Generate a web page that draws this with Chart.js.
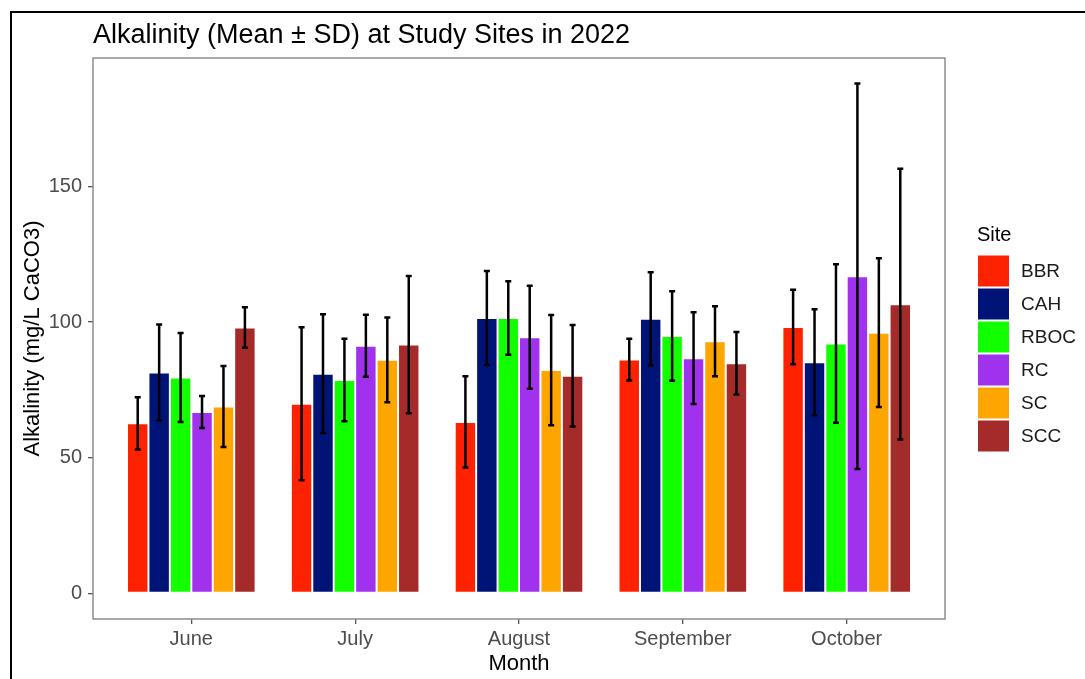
<!DOCTYPE html>
<html>
<head>
<meta charset="utf-8">
<script src="https://cdn.jsdelivr.net/npm/chart.js@4/dist/chart.umd.min.js"></script>
<style>
  html, body { margin: 0; padding: 0; background: #ffffff; }
  #wrap { width: 1085px; height: 679px; position: relative; }
</style>
</head>
<body>
<div id="wrap"><canvas id="c" width="1085" height="679"></canvas></div>
<script>
const categories = ['June', 'July', 'August', 'September', 'October'];
const sites = ['BBR', 'CAH', 'RBOC', 'RC', 'SC', 'SCC'];
const siteColors = ['#FF2200', '#001478', '#12FF00', '#A032EE', '#FFA500', '#A52A2A'];

const BBR_mean  = [62.7, 69.9, 63.2, 86.2, 98.2];
const BBR_sd    = [9.6, 28.2, 16.8, 7.7, 13.7];
const CAH_mean  = [81.4, 81.0, 101.5, 101.2, 85.2];
const CAH_sd    = [17.7, 21.9, 17.3, 17.2, 19.5];
const RBOC_mean = [79.6, 78.7, 101.5, 94.9, 92.1];
const RBOC_sd   = [16.4, 15.2, 13.5, 16.5, 29.2];
const RC_mean   = [66.9, 91.3, 94.4, 86.7, 116.9];
const RC_sd     = [5.9, 11.4, 19.0, 16.9, 71.0];
const SC_mean   = [68.9, 86.1, 82.3, 92.9, 96.1];
const SC_sd     = [14.9, 15.6, 20.3, 12.9, 27.4];
const SCC_mean  = [98.0, 91.7, 80.2, 84.8, 106.6];
const SCC_sd    = [7.5, 25.3, 18.7, 11.5, 49.9];

const yTickValues = [0, 50, 100, 150];

const titleText = 'Alkalinity (Mean \u00B1 SD) at Study Sites in 2022';
const xTitle = 'Month';
const yTitle = 'Alkalinity (mg/L CaCO3)';
const legendTitle = 'Site';

const means = [BBR_mean, CAH_mean, RBOC_mean, RC_mean, SC_mean, SCC_mean];
const sds = [BBR_sd, CAH_sd, RBOC_sd, RC_sd, SC_sd, SCC_sd];

// ggplot-like 5% expansion of the data range (0 .. max upper error bar)
let dataMax = 0;
means.forEach((m, i) => m.forEach((v, j) => { dataMax = Math.max(dataMax, v + sds[i][j]); }));
const yPad = dataMax * 0.05;

const FONT = "'Liberation Sans', Arial, Helvetica, sans-serif";

const datasets = sites.map((s, i) => ({
  label: s,
  data: means[i].map((v, j) => ({ x: j, y: v })),
  sd: sds[i],
  backgroundColor: siteColors[i],
  borderColor: '#ffffff',
  borderWidth: 1,
  borderSkipped: false,
  categoryPercentage: 0.785,
  barPercentage: 1.0
}));

const decorPlugin = {
  id: 'decor',
  beforeDraw(chart) {
    const ctx = chart.ctx;
    ctx.save();
    ctx.fillStyle = '#ffffff';
    ctx.fillRect(0, 0, chart.width, chart.height);
    ctx.restore();
  },
  afterDatasetsDraw(chart) {
    const ctx = chart.ctx;
    const yScale = chart.scales.y;
    ctx.save();
    ctx.strokeStyle = '#000000';
    ctx.lineWidth = 2.5;
    chart.data.datasets.forEach((ds, di) => {
      const meta = chart.getDatasetMeta(di);
      meta.data.forEach((el, j) => {
        const m = ds.data[j].y, sd = ds.sd[j];
        const x = el.x;
        const yt = yScale.getPixelForValue(m + sd);
        const yb = yScale.getPixelForValue(m - sd);
        ctx.beginPath();
        ctx.moveTo(x, yt); ctx.lineTo(x, yb);
        ctx.moveTo(x - 3, yt); ctx.lineTo(x + 3, yt);
        ctx.moveTo(x - 3, yb); ctx.lineTo(x + 3, yb);
        ctx.stroke();
      });
    });
    ctx.restore();
  },
  afterDraw(chart) {
    const ctx = chart.ctx;
    const a = chart.chartArea;
    ctx.save();
    // panel border
    ctx.strokeStyle = '#858585';
    ctx.lineWidth = 1.4;
    ctx.strokeRect(a.left, a.top, a.right - a.left, a.bottom - a.top);
    // outer frame
    ctx.fillStyle = '#000000';
    ctx.fillRect(10, 11, chart.width - 10, 2);
    ctx.fillRect(10, 11, 2, chart.height - 11);
    // title
    ctx.fillStyle = '#000000';
    ctx.font = '27px ' + FONT;
    ctx.textBaseline = 'alphabetic';
    ctx.textAlign = 'left';
    ctx.fillText(titleText, a.left, 43);
    // legend
    const lx = 978, ly0 = 255.5, step = 33, box = 31;
    ctx.font = '20px ' + FONT;
    ctx.fillStyle = '#000000';
    ctx.textBaseline = 'middle';
    ctx.fillText(legendTitle, 977, 235);
    ctx.font = '19px ' + FONT;
    chart.data.datasets.forEach((ds, i) => {
      const y = ly0 + i * step;
      ctx.fillStyle = ds.backgroundColor;
      ctx.fillRect(lx, y, box, box);
      ctx.fillStyle = '#1A1A1A';
      ctx.fillText(ds.label, 1021, y + box / 2 + 0.5);
    });
    ctx.restore();
  }
};

new Chart(document.getElementById('c'), {
  type: 'bar',
  data: { datasets },
  options: {
    responsive: false,
    animation: false,
    devicePixelRatio: 1,
    layout: { padding: { top: 58, right: 140, left: 0, bottom: 0 } },
    plugins: { legend: { display: false }, tooltip: { enabled: false }, title: { display: false } },
    scales: {
      x: {
        type: 'linear',
        min: -0.6,
        max: categories.length - 1 + 0.6,
        offset: false,
        afterBuildTicks(scale) { scale.ticks = categories.map((c, i) => ({ value: i })); },
        afterFit(scale) { scale.height = 60; },
        border: { display: false },
        grid: { offset: false, drawOnChartArea: false, drawTicks: true, tickLength: 5, color: '#555555', lineWidth: 1.3 },
        ticks: {
          color: '#4D4D4D',
          font: { family: FONT, size: 20 },
          padding: 3,
          maxRotation: 0,
          autoSkip: false,
          callback: (v) => categories[v]
        },
        title: { display: true, text: xTitle, color: '#000000', font: { family: FONT, size: 22 }, padding: { top: 2, bottom: 2 } }
      },
      y: {
        type: 'linear',
        min: -yPad,
        max: dataMax + yPad,
        afterBuildTicks(scale) { scale.ticks = yTickValues.map(v => ({ value: v })); },
        afterFit(scale) { scale.width = 93; },
        border: { display: false },
        grid: { drawOnChartArea: false, drawTicks: true, tickLength: 5, color: '#555555', lineWidth: 1.3 },
        ticks: {
          color: '#4D4D4D',
          font: { family: FONT, size: 20 },
          padding: 6,
          callback: (v) => String(v)
        },
        title: { display: true, text: yTitle, color: '#000000', font: { family: FONT, size: 22 }, padding: { top: 20, bottom: 20 } }
      }
    }
  },
  plugins: [decorPlugin]
});
</script>
</body>
</html>
